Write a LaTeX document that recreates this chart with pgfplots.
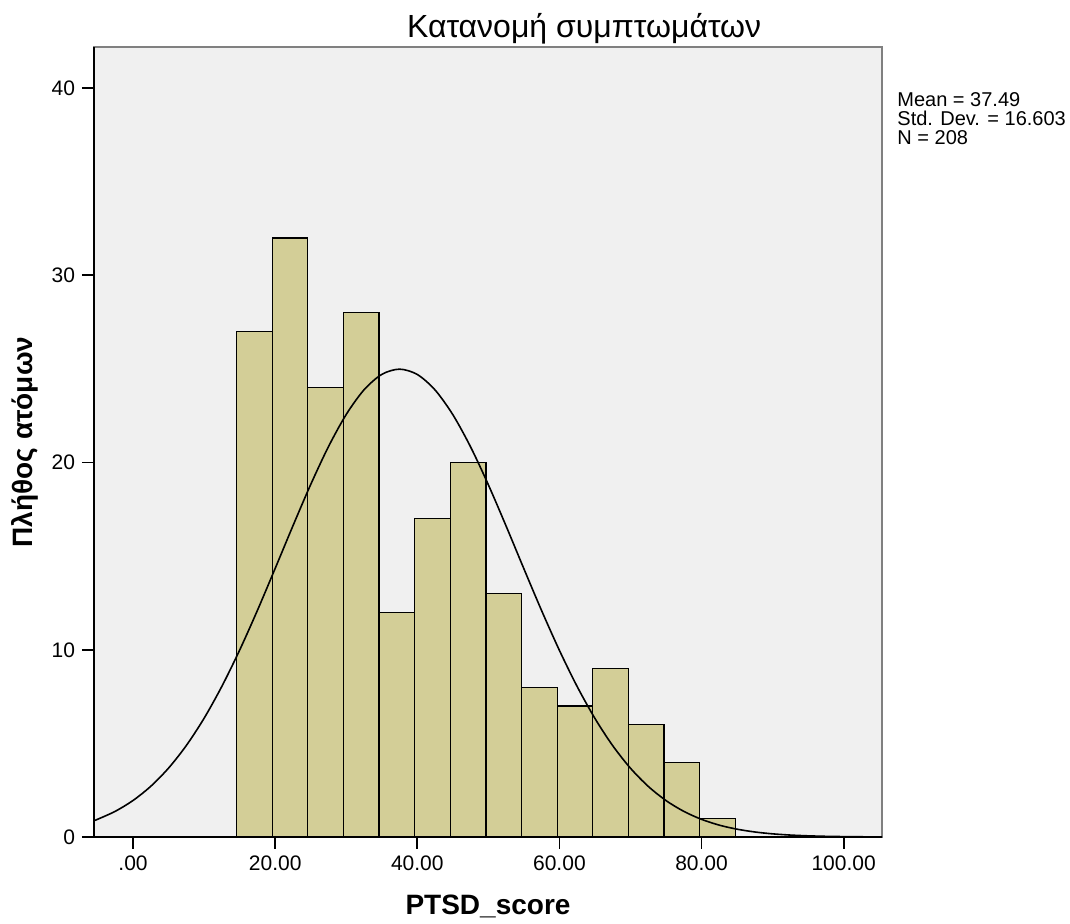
\documentclass[border=0pt]{standalone}
\usepackage{fontspec}
\setmainfont{Liberation Sans}
\usepackage{pgfplots}
\pgfplotsset{compat=1.18}
\definecolor{bgc}{HTML}{F0F0F0}
\definecolor{barc}{HTML}{D3CE97}
\definecolor{framec}{HTML}{808080}
\begin{document}
\begin{tikzpicture}
\begin{axis}[
  scale only axis, width=394pt, height=395pt,
  xmin=-5.5, xmax=105.4, ymin=0, ymax=42.2,
  axis lines*=left,
  axis line style={-, black, line width=1pt},
  axis background/.style={fill=bgc, draw=framec, line width=1.3pt},
  tick align=outside, major tick length=6pt,
  tick style={black, line width=0.9pt},
  xtick={0,20,...,100},
  xticklabels={.00,20.00,40.00,60.00,80.00,100.00},
  ytick={0,10,...,40},
  tick label style={font=\fontsize{10.5}{12}\selectfont},
  /pgf/number format/assume math mode=true,
  clip=false,
  title={Κατανομή συμπτωμάτων},
  title style={font=\fontsize{16}{18}\selectfont, at={(axis description cs:0.622,1)}, anchor=base, yshift=-1.5pt},
  xlabel={PTSD\_score},
  xlabel style={font=\bfseries\fontsize{14}{16}\selectfont, at={(axis description cs:0.5,0)}, anchor=base, yshift=-39pt},
  ylabel={Πλήθος ατόμων},
  ylabel style={font=\bfseries\fontsize{14}{16}\selectfont, at={([xshift=-30.5pt]axis description cs:0,0.5)}, anchor=base},
]
\addplot[ybar interval, fill=barc, draw=black, line width=0.6pt] coordinates {
  (14.56,27) (19.57,32) (24.59,24) (29.60,28) (34.62,12) (39.63,17) (44.64,20)
  (49.66,13) (54.67,8) (59.69,7) (64.70,9) (69.71,6) (74.73,4) (79.74,1) (84.76,1)
};
\addplot[smooth, black, line width=0.8pt] coordinates {
  (-5.5,0.875) (-5,0.945) (-2.5,1.374) (0,1.952) (2.5,2.712) (5,3.683) (7.5,4.890)
  (10,6.346) (12.5,8.051) (15,9.985) (17.5,12.106) (20,14.349) (22.5,16.624)
  (25,18.831) (27.5,20.853) (30,22.572) (32.5,23.886) (35,24.711) (37.5,24.99)
  (40,24.706) (42.5,23.878) (45,22.560) (47.5,20.837) (50,18.814) (52.5,16.607)
  (55,14.329) (57.5,12.088) (60,9.969) (62.5,8.036) (65,6.333) (67.5,4.879)
  (70,3.674) (72.5,2.705) (75,1.947) (77.5,1.370) (80,0.942) (82.5,0.633)
  (85,0.417) (87.5,0.268) (90,0.168) (92.5,0.103) (95,0.062) (97.5,0.036)
  (100,0.021) (102.5,0.011) (105.4,0.006)
};
\node[anchor=base west, font=\fontsize{10}{12}\selectfont, inner sep=0pt] at ([xshift=7.5pt,yshift=-30pt]rel axis cs:1,1) {Mean = 37.49};
\node[anchor=base west, font=\fontsize{10}{12}\selectfont, inner sep=0pt] at ([xshift=7.5pt,yshift=-39.5pt]rel axis cs:1,1) {Std. Dev. = 16.603};
\node[anchor=base west, font=\fontsize{10}{12}\selectfont, inner sep=0pt] at ([xshift=7.5pt,yshift=-49pt]rel axis cs:1,1) {N = 208};
\end{axis}
\pgfresetboundingbox
\useasboundingbox (-47pt,-43.5pt) rectangle (488pt,418.5pt);
\end{tikzpicture}
\end{document}
